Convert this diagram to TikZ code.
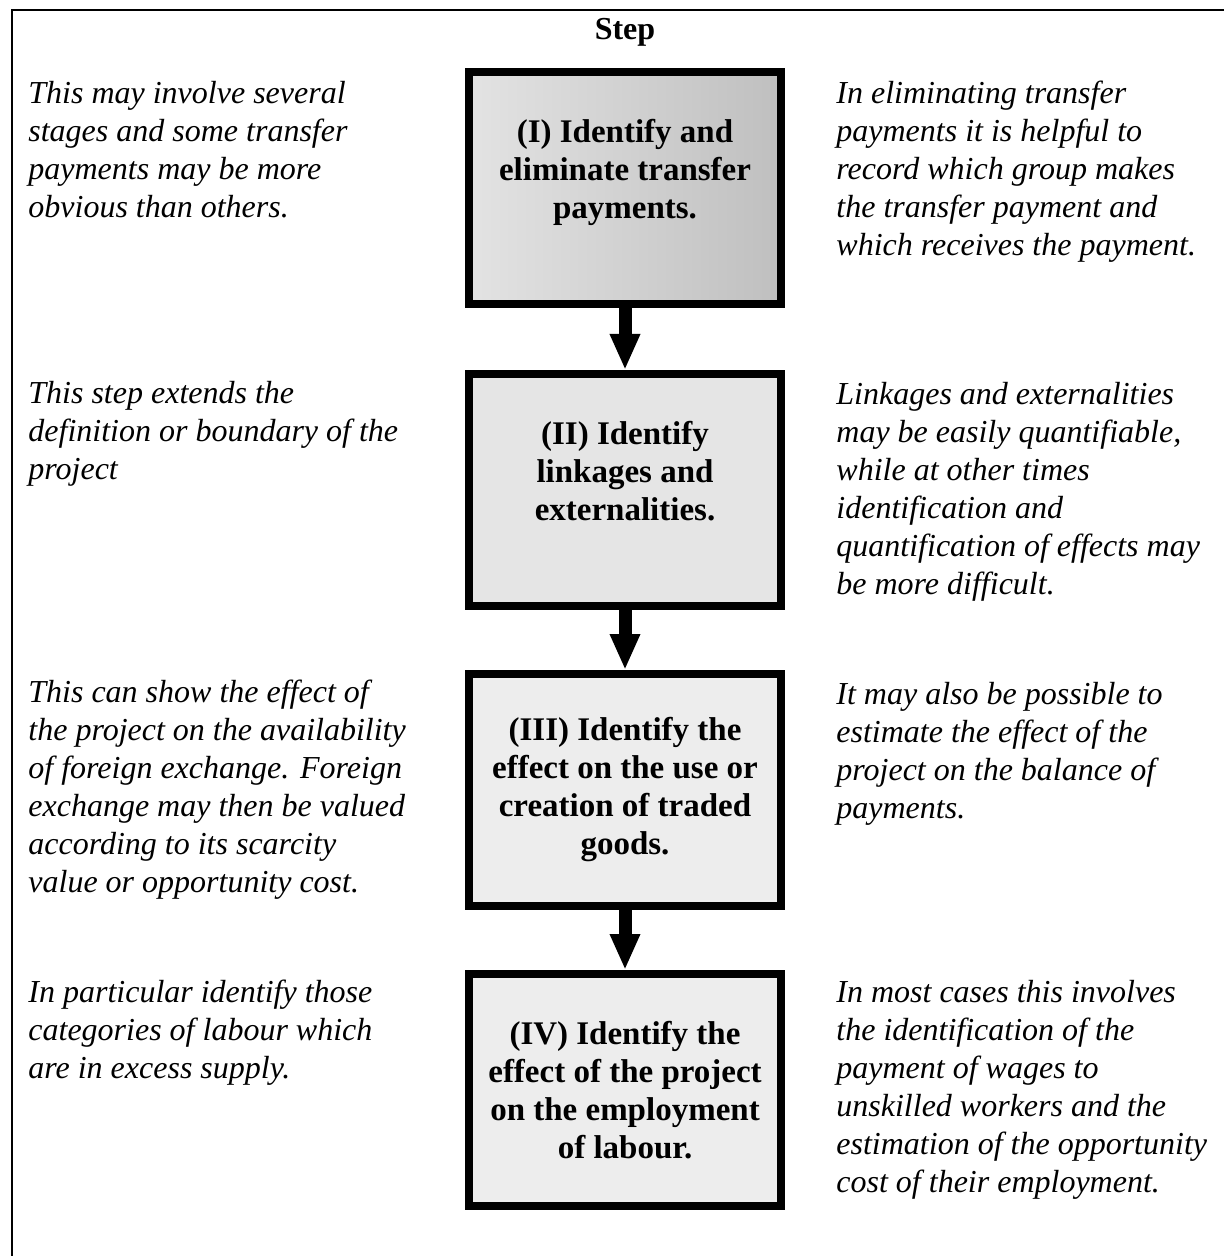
\documentclass[tikz,border=0pt]{standalone}
\usepackage{fontspec}
\setmainfont{Liberation Serif}
\usetikzlibrary{arrows.meta, positioning}

\begin{document}
\begin{tikzpicture}[
    x=1pt, y=1pt,
    node distance=30pt,
    stepbox/.style={draw, line width=4pt, minimum width=156pt, minimum height=116pt,
                    inner sep=0pt, align=center, fill=gray!14,
                    font=\fontsize{16.5}{19}\selectfont\bfseries},
    note/.style={anchor=base west, align=left, inner sep=0pt,
                 font=\fontsize{16}{19}\selectfont\itshape},
    flow/.style={line width=6.5pt, -{Triangle[width=14pt, length=18pt]}}
]
  \useasboundingbox (0,0) rectangle (612,-628);
  \draw[line width=1.2pt] (612,-5) -- (6,-5) -- (6,-628);
  \node[font=\fontsize{16}{19}\selectfont\bfseries] (head) at (312.5,-16) {Step};

  % the four steps
  \node[stepbox, left color=gray!22, right color=gray!50] (stepI) at (312.5,-94)
    {(I) Identify and\\eliminate transfer\\payments.\\\mbox{}};
  \node[stepbox, fill=gray!20, below=31pt of stepI] (stepII)
    {(II) Identify\\linkages and\\externalities.\\\mbox{}};
  \node[stepbox, below=of stepII] (stepIII)
    {(III) Identify the\\effect on the use or\\creation of traded\\goods.};
  \node[stepbox, below=of stepIII] (stepIV)
    {(IV) Identify the\\effect of the project\\on the employment\\of labour.};

  \draw[flow] (stepI) -- (stepII);
  \draw[flow] (stepII) -- (stepIII);
  \draw[flow] (stepIII) -- (stepIV);

  % notes on the left (placed by the baseline of their last line)
  \node[note] (leftI) at (14,-109) {This may involve several\\stages and some transfer\\payments may be more\\obvious than others.};
  \node[note] (leftII) at (14,-239.5) {This step extends the\\definition or boundary of the\\project};
  \node[note] (leftIII) at (14,-446) {This can show the effect of\\the project on the availability\\of foreign exchange. Foreign\\exchange may then be valued\\according to its scarcity\\value or opportunity cost.};
  \node[note] (leftIV) at (14,-539) {In particular identify those\\categories of labour which\\are in excess supply.};

  % notes on the right
  \node[note] (rightI) at (418,-128) {In eliminating transfer\\payments it is helpful to\\record which group makes\\the transfer payment and\\which receives the payment.};
  \node[note] (rightII) at (418,-297) {Linkages and externalities\\may be easily quantifiable,\\while at other times\\identification and\\quantification of effects may\\be more difficult.};
  \node[note] (rightIII) at (418,-409) {It may also be possible to\\estimate the effect of the\\project on the balance of\\payments.};
  \node[note] (rightIV) at (418,-596) {In most cases this involves\\the identification of the\\payment of wages to\\unskilled workers and the\\estimation of the opportunity\\cost of their employment.};
\end{tikzpicture}
\end{document}
